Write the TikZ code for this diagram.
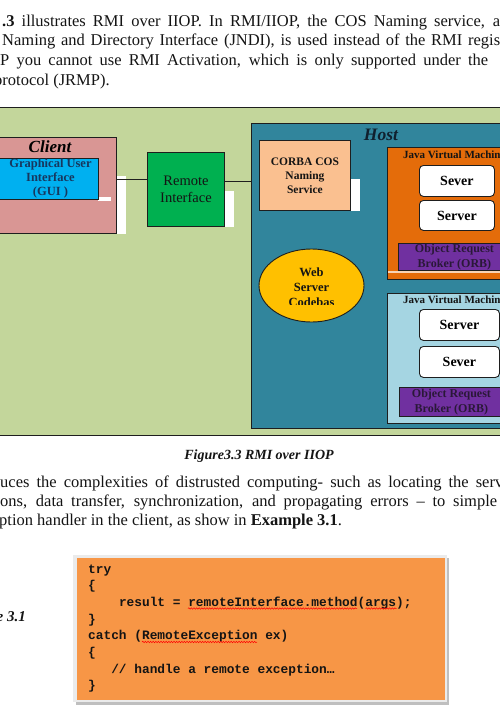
\documentclass[tikz,border=0pt]{standalone}
\usepackage{fontspec}
\setmainfont{Liberation Serif}
\setmonofont{Liberation Mono}
\usetikzlibrary{shapes.geometric,decorations.pathmorphing}

\definecolor{bggreen}{HTML}{C3D69B}
\definecolor{clientpink}{HTML}{D99694}
\definecolor{guiblue}{HTML}{00B0F0}
\definecolor{guitext}{HTML}{17375E}
\definecolor{remgreen}{HTML}{00B050}
\definecolor{hostteal}{HTML}{31859C}
\definecolor{corbafill}{HTML}{FAC090}
\definecolor{jvmorange}{HTML}{E46C0A}
\definecolor{orbpurple}{HTML}{7030A0}
\definecolor{webyellow}{HTML}{FFC000}
\definecolor{jvmblue}{HTML}{A5D5E2}
\definecolor{codeorange}{HTML}{F79646}
\definecolor{edgecol}{HTML}{1E1E1E}
\definecolor{txt}{HTML}{141414}
\definecolor{orbtext}{HTML}{2A1838}
\definecolor{hosttext}{HTML}{10202E}

\begin{document}
\begin{tikzpicture}[x=1pt,y=-1pt,
  box/.style={draw=edgecol, line width=0.9pt, inner sep=0pt, anchor=north west, align=center},
  srvbox/.style={box, fill=white, rounded corners=4pt, font=\bfseries\fontsize{14}{16}\selectfont, text=black},
  orbbox/.style={box, fill=orbpurple, font=\bfseries\fontsize{12}{14.5}\selectfont, text=orbtext},
  jvmlabel/.style={anchor=base west, inner sep=0pt, font=\bfseries\fontsize{11}{13}\selectfont, text=txt},
  shade/.style={fill=white, draw=none},
  para/.style={anchor=base west, inner sep=0pt, font=\fontsize{16.5}{19}\selectfont, text=txt},
  code/.style={anchor=base west, inner sep=0pt, font=\ttfamily\bfseries\fontsize{12.83}{16.7}\selectfont, text=txt},
  link/.style={draw=edgecol, line width=0.9pt},
  squig/.style={draw=red, line width=0.5pt, decorate, decoration={snake, amplitude=0.7pt, segment length=2.6pt}}
]
\useasboundingbox (0,0) rectangle (500,720);
\fill[white] (0,0) rectangle (500,720);
\clip (0,0) rectangle (500,720);

% ---- top paragraph ----
\node[para] (t1) at (2,26) {\makebox[498pt][s]{\textbf{.3} illustrates RMI over IIOP. In RMI/IIOP, the COS Naming service, a}};
\node[para] (t2) at (2,45.7) {\makebox[498pt][s]{Naming and Directory Interface (JNDI), is used instead of the RMI regis}};
\node[para] (t3) at (0,65.4) {\makebox[488pt][s]{P you cannot use RMI Activation, which is only supported under the}};
\node[para] (t4) at (-6,85) {protocol (JRMP).};

% ---- diagram background ----
\filldraw[fill=bggreen, draw=edgecol, line width=0.9pt] (-5,107) rectangle (505,435);

% client
\node[box, fill=clientpink, minimum width=132pt, minimum height=96pt] (client) at (-16,137) {};
\node[anchor=base, inner sep=0pt, font=\bfseries\itshape\fontsize{17}{19}\selectfont, text=black] (clientlabel) at (50,152) {Client};
\fill[shade] (116.5,176) rectangle (126,234);
\fill[shade] (98,197) rectangle (111,200.5);
\node[box, fill=guiblue, minimum width=100pt, minimum height=41pt, font=\bfseries\fontsize{12.5}{14}\selectfont, text=guitext] (gui) at (-2,158) {\hspace*{4pt}Graphical User\\\hspace*{4pt}Interface\\\hspace*{4pt}\raisebox{0pt}[0pt][0pt]{(GUI )}\rule[-4pt]{0pt}{4pt}};

% remote interface
\fill[shade] (224,191) rectangle (234,227);
\node[box, fill=remgreen, minimum width=77pt, minimum height=74pt, font=\fontsize{14.5}{17}\selectfont, text=txt] (remote) at (147,152) {Remote\\Interface};

% host
\node[box, fill=hostteal, minimum width=259pt, minimum height=305pt] (host) at (251,123) {};
\node[anchor=base, inner sep=0pt, font=\bfseries\itshape\fontsize{17.5}{19}\selectfont, text=hosttext] (hostlabel) at (381,140) {Host};

% connectors
\draw[link] (client.east |- 0,179.5) -- (remote.west |- 0,179.5);
\draw[link] (remote.east |- 0,181) -- (host.west |- 0,181);

% CORBA
\fill[shade] (350,179) rectangle (360,211);
\node[box, fill=corbafill, minimum width=91pt, minimum height=70pt, font=\bfseries\fontsize{11.5}{14}\selectfont, text=txt] (corba) at (259,140) {CORBA COS\\Naming\\Service};

% web server ellipse
\node[ellipse, draw=edgecol, line width=0.9pt, fill=webyellow, minimum width=105pt, minimum height=73pt, inner sep=0pt] (web) at (311.5,285.5) {};
\begin{scope}
  \clip (260,255) rectangle (365,304);
  \node[anchor=north, inner sep=0pt, align=center, font=\bfseries\fontsize{12.5}{15}\selectfont, text=txt] (webtext) at (311.5,268) {Web\\Server\\Codebas};
\end{scope}

% JVM 1
\node[box, fill=jvmorange, minimum width=123pt, minimum height=132pt] (jvm1) at (387,147) {};
\node[jvmlabel] (jvm1label) at (403,158) {Java Virtual Machine};
\node[srvbox, minimum width=75pt, minimum height=31pt] (sever1) at (419,165) {Sever};
\node[srvbox, minimum width=75pt, minimum height=30pt] (server1) at (419,200) {Server};
\node[orbbox, minimum width=112pt, minimum height=27pt] (orb1) at (398,243) {Object Request\\Broker (ORB)};
\fill[white!70!jvmorange] (388,271.3) rectangle (510,272.8);

% JVM 2
\node[box, fill=jvmblue, minimum width=123pt, minimum height=130pt] (jvm2) at (387,293) {};
\node[jvmlabel] (jvm2label) at (403,303) {Java Virtual Machine};
\node[srvbox, minimum width=80pt, minimum height=31pt] (server2) at (419,309) {Server};
\node[srvbox, minimum width=80pt, minimum height=31pt] (sever2) at (419,346) {Sever};
\node[orbbox, minimum width=104pt, minimum height=29pt] (orb2) at (399,387) {Object Request\\Broker (ORB)};

% caption
\node[anchor=base, inner sep=0pt, font=\bfseries\itshape\fontsize{14}{16}\selectfont, text=txt] (caption) at (259,459) {Figure3.3 RMI over IIOP};

% bottom paragraph
\node[para] (b1) at (0,487) {\makebox[503pt][s]{uces the complexities of distrusted computing- such as locating the serv}};
\node[para] (b2) at (0,506) {\makebox[497pt][s]{ons, data transfer, synchronization, and propagating errors – to simple}};
\node[para] (b3) at (-1,525) {ption handler in the client, as show in \textbf{Example 3.1}.};

% example label
\node[anchor=base east, inner sep=0pt, font=\bfseries\itshape\fontsize{15}{17}\selectfont, text=txt] (exlabel) at (26,621) {Example 3.1};

% code box
\fill[black!25] (76,558) rectangle (449,704.5);
\fill[black!8] (72.5,554.5) rectangle (447,702);
\node[box, draw=none, fill=codeorange, minimum width=368pt, minimum height=142pt] (codebox) at (77,558) {};
\node[code] (c1) at (88,573) {try};
\node[code] (c2) at (88,589.7) {\{};
\node[code] (c3) at (118.8,606.4) {result = remoteInterface.method(args);};
\node[code] (c4) at (88,623.1) {\}};
\node[code] (c5) at (88,639.8) {catch (RemoteException ex)};
\node[code] (c6) at (88,656.5) {\{};
\node[code] (c7) at (111.1,673.2) {// handle a remote exception…};
\node[code] (c8) at (88,689.9) {\}};
\draw[squig] (188,608.5) -- (357,608.5);
\draw[squig] (365.5,608.5) -- (396.5,608.5);
\draw[squig] (142,642) -- (257,642);
\end{tikzpicture}
\end{document}
